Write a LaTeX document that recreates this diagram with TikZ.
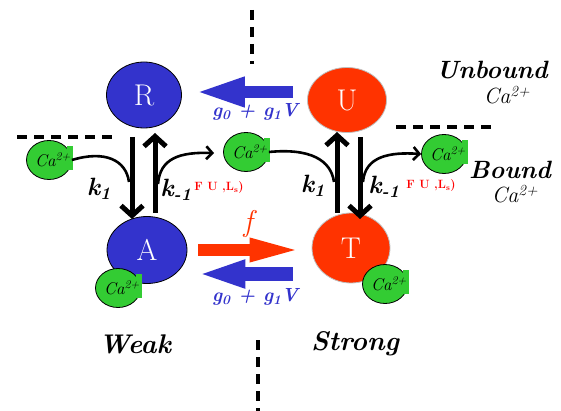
\documentclass[tikz,border=0pt]{standalone}
\usepackage{fontspec}
\usetikzlibrary{shapes.geometric,arrows.meta}
\definecolor{weakblue}{RGB}{51,51,204}
\definecolor{strongred}{RGB}{255,51,0}
\definecolor{iongreen}{RGB}{51,204,51}
\newcommand{\ca}{\makebox[0pt]{\hspace{8pt}Ca\textsuperscript{2+}}}
\begin{document}
\begin{tikzpicture}[x=1pt,y=-1pt,
  state/.style={ellipse,inner sep=0pt,line width=0.8pt,text=white,font=\fontsize{30}{30}\selectfont},
  ion/.style={ellipse,draw,line width=0.8pt,fill=iongreen,inner sep=0pt,minimum width=45pt,minimum height=39pt},
  iontext/.style={inner sep=0pt,font=\fontsize{17}{17}\selectfont\itshape},
  rate/.style={line width=5pt,-{Straight Barb[length=10pt,width=22pt]}},
  bind/.style={line width=2.6pt,-{Straight Barb[length=6pt,width=13pt]}},
  ratelabel/.style={font=\fontsize{25}{25}\selectfont\bfseries\itshape},
  gatelabel/.style={text=weakblue,font=\fontsize{19}{19}\selectfont\bfseries\itshape},
  areatag/.style={font=\fontsize{25}{25}\selectfont\bfseries\itshape},
  ionlabel/.style={font=\fontsize{22}{22}\selectfont\itshape},
  divide/.style={line width=3.5pt,dash pattern=on 10pt off 7pt}]
\useasboundingbox (0,0) rectangle (561,411);
% states
\node[state,draw=black,fill=weakblue,minimum width=75pt,minimum height=66pt] (R) at (144,95) {R};
\node[state,draw=black,fill=weakblue,minimum width=80pt,minimum height=67pt] (A) at (147,250) {A};
\node[state,draw=black!25,fill=strongred,minimum width=79pt,minimum height=65pt] (U) at (347,100) {U};
\node[state,draw=black!25,fill=strongred,minimum width=78pt,minimum height=70pt] (T) at (351,248) {T};
% calcium ions
\node[ion] (c1) at (49,160) {};
\node[ion] (c2) at (246,152) {};
\node[ion] (c3) at (444,154) {};
\node[ion] (c4) at (118,288) {};
\node[ion] (c5) at (385,284) {};
\foreach \c in {c1,c2,c3,c4,c5}{
  \fill[iongreen] ([xshift=-5pt,yshift=-10pt]\c.east) rectangle ([xshift=1pt,yshift=14pt]\c.east);
  \node[iontext] at (\c) {\ca};
}
% dividers
\draw[divide] (252,10) -- (252,64);
\draw[divide] (258,340) -- (258,411);
\draw[divide] (17,137) -- (113,137);
\draw[divide] (396,127) -- (493,127);
% binding steps
\draw[rate] (132,137) -- (132,219);
\draw[rate] (155,213) -- (155,133);
\draw[rate] (337,213) -- (337,132);
\draw[rate] (360,137) -- (360,219);
\draw[line width=2.6pt] (c1.east) .. controls (105,150) and (126,160) .. (129,182);
\draw[bind] (158,184) .. controls (160,158) and (180,152) .. (214,153);
\draw[line width=2.6pt] (c2.east) .. controls (310,148) and (331,160) .. (334,182);
\draw[bind] (363,182) .. controls (365,156) and (390,152) .. (c3.west);
% conformational steps
\coordinate (uout) at (293,92);
\coordinate (ain) at (198,250);
\coordinate (tout) at (293,274);
\draw[weakblue,line width=12pt,-{Triangle[length=50pt,width=27pt]},shorten >=13pt] (uout) -- (uout -| R.east);
\draw[strongred,line width=11pt,-{Triangle[length=53pt,width=21pt]},shorten >=9pt] (ain) -- (ain -| T.west);
\draw[weakblue,line width=14pt,-{Triangle[length=49pt,width=25pt]},shorten >=9pt] (tout) -- (tout -| A.east);
% labels
\node[gatelabel] at (255,112) {g\textsubscript{0} + g\textsubscript{1}V};
\node[gatelabel] at (255,297) {g\textsubscript{0} + g\textsubscript{1}V};
\node[text=strongred,font=\fontsize{30}{30}\selectfont\itshape] at (248,224) {f};
\node[ratelabel] at (99,189) {k\textsubscript{1}};
\node[ratelabel] at (313,186) {k\textsubscript{1}};
\node[ratelabel] at (176,190) {k\textsubscript{-1}};
\node[ratelabel] at (384,187) {k\textsubscript{-1}};
\node[text=red,font=\fontsize{12}{12}\selectfont\bfseries] at (219,188) {F U ,L\textsubscript{s})};
\node[text=red,font=\fontsize{12}{12}\selectfont\bfseries] at (431,186) {F U ,L\textsubscript{s})};
\node[areatag] at (492,70) {Unbound};
\node[ionlabel] at (507,95) {Ca\textsuperscript{2+}};
\node[areatag] at (510,170) {Bound};
\node[ionlabel] at (515,194) {Ca\textsuperscript{2+}};
\node[areatag,font=\fontsize{27}{27}\selectfont\bfseries\itshape] at (135,344) {Weak};
\node[areatag,font=\fontsize{27}{27}\selectfont\bfseries\itshape] at (355,344) {Strong};
\end{tikzpicture}
\end{document}
